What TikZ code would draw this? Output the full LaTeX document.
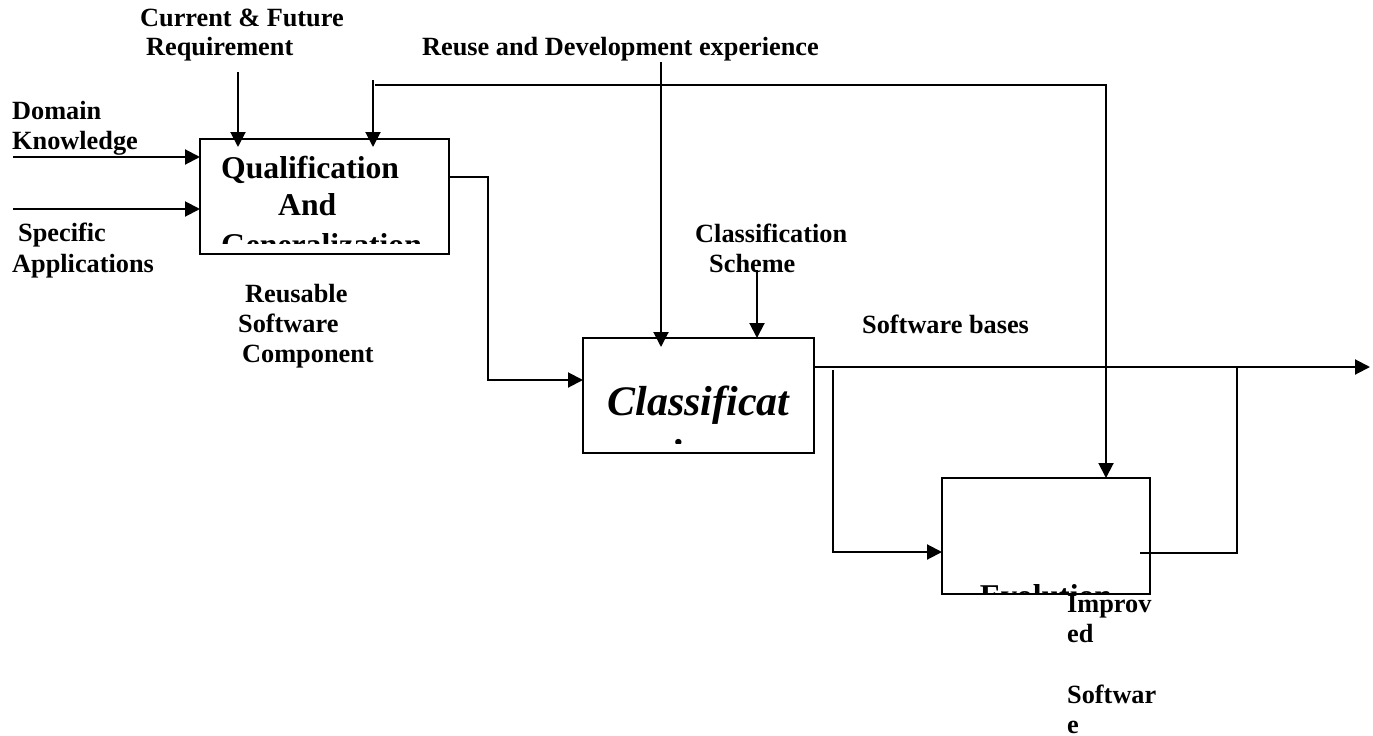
\documentclass[tikz,border=0pt]{standalone}
\usepackage{fontspec}
\setmainfont{Liberation Serif}
\usetikzlibrary{arrows.meta}
\begin{document}
\begin{tikzpicture}[x=1pt,y=-1pt,
  box/.style={draw,line width=2pt,rectangle,inner sep=0pt,outer sep=0pt},
  wire/.style={line width=2pt},
  arr/.style={wire,-{Triangle[length=15pt,width=15pt]}},
  lbl/.style={anchor=base west,inner sep=0pt,font=\bfseries\fontsize{26.3}{30}\selectfont},
  boxtext/.style={inner sep=0pt,font=\bfseries\fontsize{31.7}{36.5}\selectfont},
  bigtext/.style={inner sep=0pt,anchor=base,font=\bfseries\itshape\fontsize{42}{48}\selectfont}]
\useasboundingbox[fill=white] (0,0) rectangle (1373,736);

% process boxes
\node[box,minimum width=249pt,minimum height=115pt] (qual) at (324.5,196.5) {};
\node[box,minimum width=231pt,minimum height=115pt] (clas) at (698.5,395.5) {};
\node[box,minimum width=208pt,minimum height=116pt] (evol) at (1046,536) {};

% box captions, cut off by their frames
\begin{scope}
  \clip (200,139) rectangle (449,243);
  \node[boxtext,anchor=base west] (q1) at (221,178) {Qualification};
  \node[boxtext,anchor=base west] (q2) at (278,215) {And};
  \node[boxtext,anchor=base west] (q3) at (221,255) {Generalization};
\end{scope}
\begin{scope}
  \clip (583,338) rectangle (814,443);
  \node[bigtext] (c1) at (698.5,415) {Classificat};
  \node[bigtext] (c2) at (698.5,468) {ion};
\end{scope}
\begin{scope}
  \clip (942,478) rectangle (1150,592);
  \node[boxtext,anchor=base] (e1) at (1046,606) {Evolution};
\end{scope}

% labels
\node[lbl] (cf1) at (140,27) {Current \& Future};
\node[lbl] (cf2) at (146,55) {Requirement};
\node[lbl] (rd) at (422,55) {Reuse and Development experience};
\node[lbl] (dk1) at (12,119) {Domain};
\node[lbl] (dk2) at (12,149) {Knowledge};
\node[lbl] (sa1) at (18,241) {Specific};
\node[lbl] (sa2) at (12,272) {Applications};
\node[lbl] (rs1) at (245,302) {Reusable};
\node[lbl] (rs2) at (238,332) {Software};
\node[lbl] (rs3) at (242,362) {Component};
\node[lbl] (cs1) at (695,242) {Classification};
\node[lbl] (cs2) at (709,272) {Scheme};
\node[lbl] (sb) at (862,333) {Software bases};
\node[lbl] (is1) at (1067,612) {Improv};
\node[lbl] (is2) at (1067,642) {ed};
\node[lbl] (is3) at (1067,703) {Softwar};
\node[lbl] (is4) at (1067,733) {e};

% free ends of connectors
\coordinate (dkin) at (13,157);
\coordinate (sain) at (13,209);
\coordinate (cfin) at (238,72);
\coordinate (fbdown) at (373,80);
\coordinate (fbstart) at (375,85);
\coordinate (fbcorner) at (1106,85);
\coordinate (rdin) at (661,62);
\coordinate (csin) at (757,270);
\coordinate (qbend) at (488,177);
\coordinate (cout) at (1370,367);
\coordinate (branch) at (833,370);
\coordinate (eout) at (1140,553);
\coordinate (ejoin) at (1237,553);

% inputs and controls
\draw[arr] (dkin) -- (dkin -| qual.west);
\draw[arr] (sain) -- (sain -| qual.west);
\draw[arr] (cfin) -- ([yshift=-8pt]cfin |- qual.north);
\draw[arr] (fbdown) -- ([yshift=-8pt]fbdown |- qual.north);
\draw[arr] (fbstart) -- (fbcorner) -- (fbcorner |- evol.north);
\draw[arr] (rdin) -- ([yshift=-9pt]rdin |- clas.north);
\draw[arr] (csin) -- (csin |- clas.north);

% flows between boxes
\draw[arr] (qbend -| qual.east) -- (qbend) -- (qbend |- 0,380) -- (clas.west |- 0,380);
\draw[arr] (cout -| clas.east) -- (cout);
\draw[arr] (branch) -- (branch |- 0,552) -- (evol.west |- 0,552);
\draw[wire] (eout) -- (ejoin) -- (ejoin |- cout);
\end{tikzpicture}
\end{document}
